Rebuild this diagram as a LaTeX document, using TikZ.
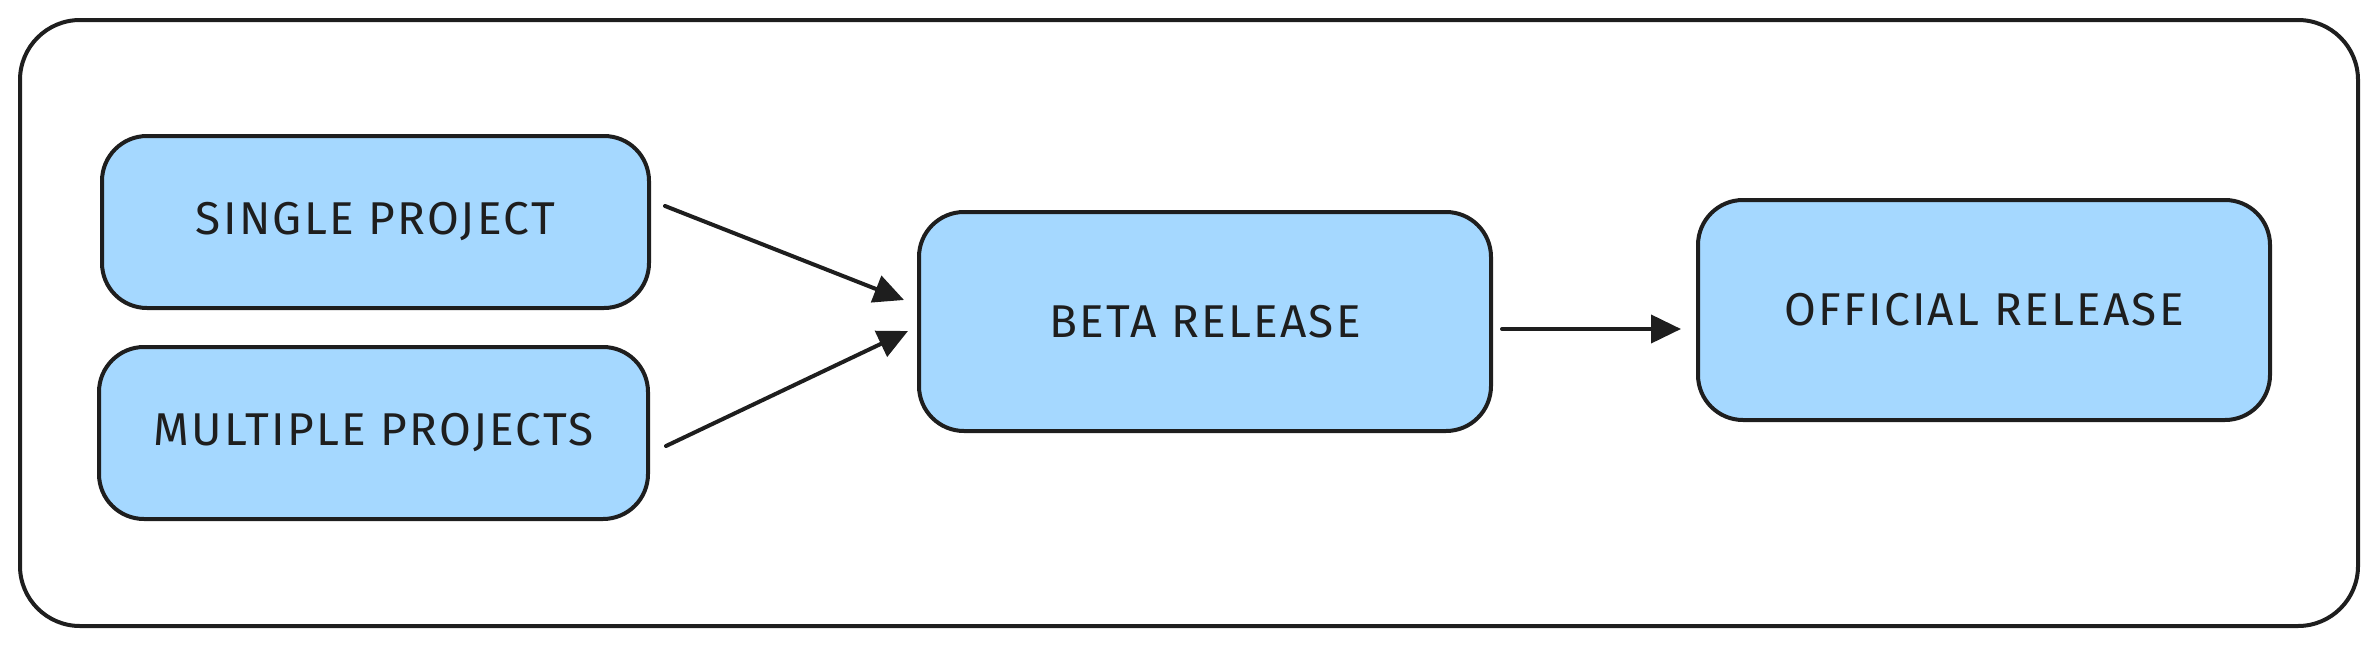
\documentclass[tikz,border=0pt]{standalone}
\usepackage{fontspec}
\setmainfont{Fira Sans}
\newfontfamily\stagefont[LetterSpace=5]{Fira Sans}
\usetikzlibrary{arrows.meta}
\definecolor{myblue}{RGB}{165,216,255}
\definecolor{myink}{RGB}{30,30,30}

\begin{document}
\begin{tikzpicture}[x=1pt,y=-1pt,
  stage/.style={draw=myink, line width=4pt, rounded corners=45pt, fill=myblue, inner sep=0pt, font=\stagefont\fontsize{46}{50}\selectfont, text=myink},
  flow/.style={draw=myink, line width=4pt, line cap=round, -{Triangle[length=30pt,width=28pt]}}]
\useasboundingbox (0,0) rectangle (2378,648);
% Outer frame
\node[draw=myink, line width=4pt, rounded corners=60pt, minimum width=2338pt, minimum height=606pt] (frame) at (1189,323) {};
% Create nodes for the release stages
\node[stage, minimum width=547pt, minimum height=172pt] (single) at (375.5,222) {SINGLE PROJECT};
\node[stage, minimum width=549pt, minimum height=172pt] (multiple) at (373.5,433) {MULTIPLE PROJECTS};
\node[stage, minimum width=572pt, minimum height=219pt] (beta) at (1205,321.5) {BETA RELEASE};
\node[stage, minimum width=572pt, minimum height=220pt] (official) at (1984,310) {OFFICIAL RELEASE};

% Add connections
\draw[flow] ([xshift=14pt,yshift=16pt]single.east) -- ([xshift=-13pt,yshift=21.5pt]beta.west);
\draw[flow] ([xshift=16pt,yshift=-13pt]multiple.east) -- ([xshift=-9pt,yshift=-9.5pt]beta.west);
\draw[flow] ([xshift=9pt,yshift=-7.5pt]beta.east) -- ([xshift=-15pt,yshift=-19pt]official.west);
\end{tikzpicture}
\end{document}
